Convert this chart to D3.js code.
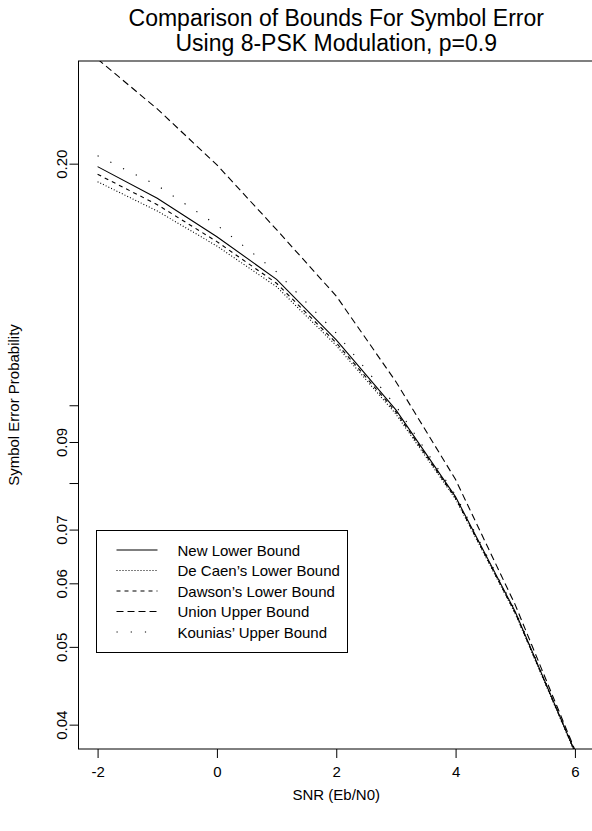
<!DOCTYPE html>
<html>
<head>
<meta charset="utf-8">
<script src="https://cdn.jsdelivr.net/npm/d3@7"></script>
<style>
  body { margin: 0; background: #fff; }
  svg { display: block; font-family: "Liberation Sans", Arial, sans-serif; }
  .line { fill: none; stroke: #000; stroke-width: 1.1; }
</style>
</head>
<body>
<div id="graph"></div>
<script>
// data
var snr = [-2, -1, 0, 1, 2, 3, 4, 5, 6];
var newLower = [0.1983, 0.1811, 0.1622, 0.1435, 0.1206, 0.0987, 0.0769, 0.0553, 0.0370];
var deCaen   = [0.1899, 0.1746, 0.1579, 0.1405, 0.1187, 0.0975, 0.0764, 0.0550, 0.0369];
var dawson   = [0.1940, 0.1778, 0.1599, 0.1419, 0.1196, 0.0981, 0.0766, 0.0551, 0.0370];
var unionUp  = [0.2700, 0.2340, 0.1993, 0.1655, 0.1368, 0.1070, 0.0808, 0.0564, 0.0372];
var kounias  = [0.2046, 0.1879, 0.1677, 0.1466, 0.1230, 0.0998, 0.0773, 0.0555, 0.0371];

var xTicks = [-2, 0, 2, 4, 6];
var yTicks = [0.04, 0.05, 0.06, 0.07, 0.08, 0.09, 0.1, 0.2];
var yTickLabels = ["0.04", "0.05", "0.06", "0.07", "", "0.09", "", "0.20"];

var seriesNames = ["New Lower Bound", "De Caen\u2019s Lower Bound", "Dawson\u2019s Lower Bound",
                   "Union Upper Bound", "Kounias\u2019 Upper Bound"];
var seriesDash = [null, "1,2", "4,4", "7,4", "1.2,13"];
var seriesData = [newLower, deCaen, dawson, unionUp, kounias];

// plot region (right edge falls just outside the window, as in the original)
var W = 592, H = 831;
var box = {left: 78.5, right: 594, top: 61, bottom: 749};

var x = d3.scaleLinear().domain([-2.32, 6.32]).range([box.left, box.right]);
var y = d3.scaleLog().domain([0.0373, 0.2685]).range([box.bottom, box.top]);

var svg = d3.select("#graph").append("svg")
  .attr("width", W)
  .attr("height", H);

svg.append("defs").append("clipPath").attr("id", "plotclip")
  .append("rect")
  .attr("x", box.left).attr("y", box.top)
  .attr("width", box.right - box.left).attr("height", box.bottom - box.top);

// title
var cx = (box.left + box.right) / 2;
var title = svg.append("text")
  .attr("text-anchor", "middle")
  .style("font-size", "23px");
title.append("tspan").attr("x", cx).attr("y", 26).text("Comparison of Bounds For Symbol Error");
title.append("tspan").attr("x", cx).attr("y", 51).text("Using 8-PSK Modulation, p=0.9");

// x axis
var xAxis = svg.append("g")
  .attr("transform", "translate(0," + box.bottom + ")")
  .call(d3.axisBottom(x).tickValues(xTicks).tickSize(9).tickSizeOuter(0).tickPadding(8)
    .tickFormat(function(d) { return d < 0 ? "-" + Math.abs(d) : d; }));
xAxis.select(".domain").remove();
xAxis.selectAll("text").style("font-size", "15px").attr("fill", "#000").style("font-family", "inherit");

// y axis
var yAxis = svg.append("g")
  .attr("transform", "translate(" + box.left + ",0)")
  .call(d3.axisLeft(y).tickValues(yTicks).tickSize(9).tickSizeOuter(0)
    .tickFormat(function(d, i) { return yTickLabels[i]; }));
yAxis.select(".domain").remove();
yAxis.selectAll("text")
  .attr("x", null).attr("dy", null)
  .attr("text-anchor", "middle")
  .attr("transform", "translate(-12,0) rotate(-90)")
  .style("font-size", "15px").attr("fill", "#000").style("font-family", "inherit");

// axis titles
svg.append("text")
  .attr("x", cx)
  .attr("y", 800)
  .attr("text-anchor", "middle")
  .style("font-size", "15px")
  .text("SNR (Eb/N0)");

svg.append("text")
  .attr("transform", "translate(19," + (box.top + box.bottom) / 2 + ") rotate(-90)")
  .attr("text-anchor", "middle")
  .style("font-size", "15px")
  .text("Symbol Error Probability");

// the lines
var line = d3.line()
  .x(function(d) { return x(d[0]); })
  .y(function(d) { return y(d[1]); });

var plot = svg.append("g").attr("clip-path", "url(#plotclip)");
seriesData.forEach(function(vals, i) {
  plot.append("path")
    .datum(snr.map(function(s, j) { return [s, vals[j]]; }))
    .attr("class", "line")
    .style("stroke-dasharray", seriesDash[i])
    .attr("d", line);
});

// plot box
svg.append("rect")
  .attr("x", box.left).attr("y", box.top)
  .attr("width", box.right - box.left).attr("height", box.bottom - box.top)
  .attr("fill", "none").attr("stroke", "#000").attr("stroke-width", 1);

// legend
var leg = {x: 96.5, y: 530.5, w: 251, h: 122, row: 20.5};
svg.append("rect")
  .attr("x", leg.x).attr("y", leg.y)
  .attr("width", leg.w).attr("height", leg.h)
  .attr("fill", "#fff").attr("stroke", "#000").attr("stroke-width", 1);

seriesNames.forEach(function(name, i) {
  var ly = leg.y + 19.5 + i * leg.row;
  svg.append("line")
    .attr("class", "line")
    .attr("x1", leg.x + 20).attr("x2", leg.x + 61)
    .attr("y1", ly).attr("y2", ly)
    .style("stroke-dasharray", seriesDash[i]);
  svg.append("text")
    .attr("x", leg.x + 81)
    .attr("y", ly + 5.5)
    .style("font-size", "15px")
    .text(name);
});
</script>
</body>
</html>
